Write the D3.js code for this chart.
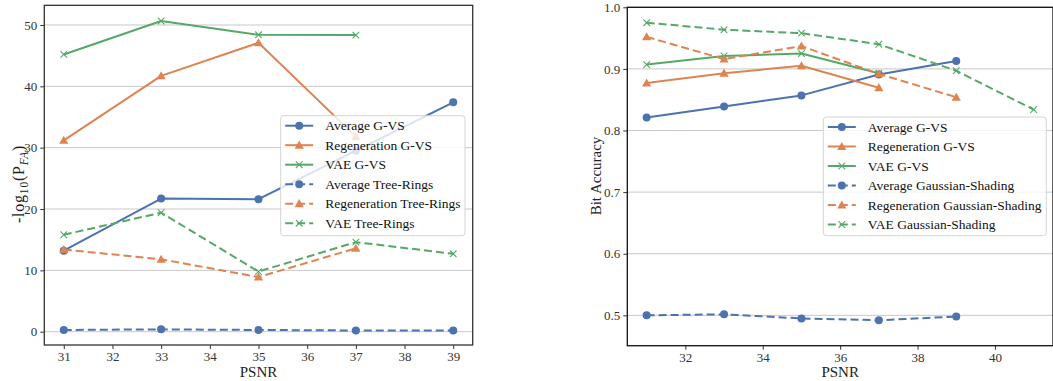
<!DOCTYPE html>
<html>
<head>
<meta charset="utf-8">
<script src="https://cdn.jsdelivr.net/npm/d3@7"></script>
<style>
  html, body { margin: 0; padding: 0; background: #fff; }
  svg text { font-family: "Liberation Serif", "Times New Roman", serif !important; }
</style>
</head>
<body>
<svg id="chart" width="1053" height="381"></svg>
<script>
// ---------- data ----------
const psnrLeft = [31, 33, 35, 37, 39];
const avgGVSLeft = [13.2, 21.7, 21.6, 29.5, 37.4];
const regenGVSLeft = [31.2, 41.7, 47.1, 31.8];
const vaeGVSLeft = [45.2, 50.65, 48.4, 48.35];
const avgTreeRings = [0.28, 0.38, 0.28, 0.2, 0.2];
const regenTreeRings = [13.4, 11.8, 8.9, 13.6];
const vaeTreeRings = [15.8, 19.4, 9.8, 14.6, 12.7];

const psnrRight = [31, 33, 35, 37, 39, 41];
const avgGVSRight = [0.821, 0.839, 0.857, 0.891, 0.913];
const regenGVSRight = [0.877, 0.893, 0.905, 0.8695];
const vaeGVSRight = [0.907, 0.921, 0.925, 0.893];
const avgGaussShading = [0.500, 0.5016, 0.495, 0.492, 0.498];
const regenGaussShading = [0.952, 0.916, 0.937, 0.892, 0.854];
const vaeGaussShading = [0.975, 0.9636, 0.958, 0.940, 0.897, 0.834];

const leftXTicks = [31, 32, 33, 34, 35, 36, 37, 38, 39];
const leftYTicks = [0, 10, 20, 30, 40, 50];
const rightXTicks = [32, 34, 36, 38, 40];
const rightYTicks = [0.5, 0.6, 0.7, 0.8, 0.9, 1.0];

const leftLabels = ["Average G-VS", "Regeneration G-VS", "VAE G-VS",
  "Average Tree-Rings", "Regeneration Tree-Rings", "VAE Tree-Rings"];
const rightLabels = ["Average G-VS", "Regeneration G-VS", "VAE G-VS",
  "Average Gaussian-Shading", "Regeneration Gaussian-Shading", "VAE Gaussian-Shading"];

// ---------- style ----------
const BLUE = "#4c72b0", ORANGE = "#dd8452", GREEN = "#55a868";
const styles = [
  {color: BLUE, marker: "circle", dash: null},
  {color: ORANGE, marker: "triangle", dash: null},
  {color: GREEN, marker: "x", dash: null},
  {color: BLUE, marker: "circle", dash: "8,4"},
  {color: ORANGE, marker: "triangle", dash: "8,4"},
  {color: GREEN, marker: "x", dash: "8,4"}
];

const svg = d3.select("#chart");

function drawMarker(g, type, x, y, color) {
  if (type === "circle") {
    g.append("circle").attr("cx", x).attr("cy", y).attr("r", 4).attr("fill", color);
  } else if (type === "triangle") {
    const s = 4.6;
    g.append("path")
      .attr("d", `M${x},${y - s} L${x + s},${y + s * 0.75} L${x - s},${y + s * 0.75} Z`)
      .attr("fill", color);
  } else {
    const s = 3.3;
    g.append("path")
      .attr("d", `M${x - s},${y - s} L${x + s},${y + s} M${x - s},${y + s} L${x + s},${y - s}`)
      .attr("stroke", color).attr("stroke-width", 1.1).attr("fill", "none");
  }
}

function panel(cfg) {
  const x = d3.scaleLinear().domain(cfg.xDomain).range(cfg.xRange);
  const y = d3.scaleLinear().domain(cfg.yDomain).range(cfg.yRange);
  const g = svg.append("g");
  const clipId = "clip" + cfg.id;
  svg.append("clipPath").attr("id", clipId).append("rect")
    .attr("x", cfg.xRange[0]).attr("y", cfg.yRange[1])
    .attr("width", cfg.xRange[1] - cfg.xRange[0]).attr("height", cfg.yRange[0] - cfg.yRange[1]);

  // grid
  g.append("g").selectAll("line").data(cfg.yTicks).join("line")
    .attr("x1", cfg.xRange[0]).attr("x2", cfg.xRange[1])
    .attr("y1", d => y(d)).attr("y2", d => y(d))
    .attr("stroke", "#c8c8c8").attr("stroke-width", 1);

  // axes
  const xAxis = d3.axisBottom(x).tickValues(cfg.xTicks).tickSize(4).tickPadding(3)
    .tickFormat(d3.format("d"));
  const yAxis = d3.axisLeft(y).tickValues(cfg.yTicks).tickSize(4).tickPadding(3)
    .tickFormat(cfg.yFormat);
  const gx = g.append("g").attr("transform", `translate(0,${cfg.yRange[0]})`).call(xAxis);
  const gy = g.append("g").attr("transform", `translate(${cfg.xRange[0]},0)`).call(yAxis);
  [gx, gy].forEach(a => {
    a.attr("font-family", null);
    a.select(".domain").remove();
    a.selectAll("line").attr("stroke", "#333").attr("stroke-width", 1);
    a.selectAll("text").attr("fill", "#333").attr("font-size", 13);
  });

  // series
  const plot = g.append("g").attr("clip-path", `url(#${clipId})`);
  const line = d3.line().x(d => x(d[0])).y(d => y(d[1]));
  cfg.series.forEach((vals, i) => {
    const st = styles[i];
    const pts = vals.map((v, j) => [cfg.xs[j], v]);
    plot.append("path").datum(pts).attr("d", line)
      .attr("fill", "none").attr("stroke", st.color).attr("stroke-width", 2)
      .attr("stroke-linejoin", "round")
      .attr("stroke-dasharray", st.dash);
    pts.forEach(p => drawMarker(plot, st.marker, x(p[0]), y(p[1]), st.color));
  });

  // frame
  g.append("rect")
    .attr("x", cfg.xRange[0]).attr("y", cfg.yRange[1])
    .attr("width", cfg.xRange[1] - cfg.xRange[0]).attr("height", cfg.yRange[0] - cfg.yRange[1])
    .attr("fill", "none").attr("stroke", cfg.frameColor).attr("stroke-width", 1.3);

  // legend
  const L = cfg.legend;
  const lg = g.append("g");
  lg.append("rect").attr("x", L.x).attr("y", L.y).attr("width", L.w).attr("height", L.h)
    .attr("rx", 3).attr("fill", "#fff").attr("fill-opacity", 0.8)
    .attr("stroke", "#d4d4d4").attr("stroke-width", 1);
  cfg.labels.forEach((lab, i) => {
    const st = styles[i];
    const cy = L.y + 10 + i * L.step;
    const hx0 = L.x + 4.5, hx1 = hx0 + 28;
    lg.append("line").attr("x1", hx0).attr("x2", hx1).attr("y1", cy).attr("y2", cy)
      .attr("stroke", st.color).attr("stroke-width", 2).attr("stroke-dasharray", st.dash);
    drawMarker(lg, st.marker, (hx0 + hx1) / 2, cy, st.color);
    lg.append("text").attr("x", hx1 + 12).attr("y", cy + 4.5)
      .attr("font-size", 13.5).attr("fill", "#111").text(lab);
  });

  // x label
  g.append("text").attr("x", (cfg.xRange[0] + cfg.xRange[1]) / 2).attr("y", 376.5)
    .attr("text-anchor", "middle").attr("font-size", 15).attr("fill", "#222").text("PSNR");
  return {g, x, y};
}

panel({
  id: "L",
  xDomain: [30.6, 39.4], xRange: [44.3, 472.7],
  yDomain: [-2.17, 53.21], yRange: [345, 5.3],
  xTicks: leftXTicks, yTicks: leftYTicks, yFormat: d3.format("d"),
  xs: psnrLeft,
  series: [avgGVSLeft, regenGVSLeft, vaeGVSLeft, avgTreeRings, regenTreeRings, vaeTreeRings],
  labels: leftLabels,
  legend: {x: 280.7, y: 115.7, w: 184.3, h: 120, step: 19.5},
  frameColor: "#333"
});

panel({
  id: "R",
  xDomain: [30.5, 41.5], xRange: [627.3, 1053],
  yDomain: [0.4507, 1.0], yRange: [345.7, 7.3],
  xTicks: rightXTicks, yTicks: rightYTicks, yFormat: d3.format(".1f"),
  xs: psnrRight,
  series: [avgGVSRight, regenGVSRight, vaeGVSRight, avgGaussShading, regenGaussShading, vaeGaussShading],
  labels: rightLabels,
  legend: {x: 823.3, y: 117, w: 223, h: 118.7, step: 19.5},
  frameColor: "#111"
});

// y labels
const yl = svg.append("text")
  .attr("transform", "translate(24,184) rotate(-90)")
  .attr("text-anchor", "middle").attr("font-size", 16).attr("fill", "#222")
  .attr("letter-spacing", 0.8);
yl.append("tspan").text("-log");
yl.append("tspan").attr("font-size", 11.5).attr("dy", 3.5).text("10");
yl.append("tspan").attr("dy", -3.5).text("(P");
yl.append("tspan").attr("font-size", 11.5).attr("dy", 3.5).attr("font-style", "italic").text("FA");
yl.append("tspan").attr("dy", -3.5).text(")");

svg.append("text")
  .attr("transform", "translate(601,176) rotate(-90)")
  .attr("text-anchor", "middle").attr("font-size", 15).attr("fill", "#222")
  .text("Bit Accuracy");
</script>
</body>
</html>
